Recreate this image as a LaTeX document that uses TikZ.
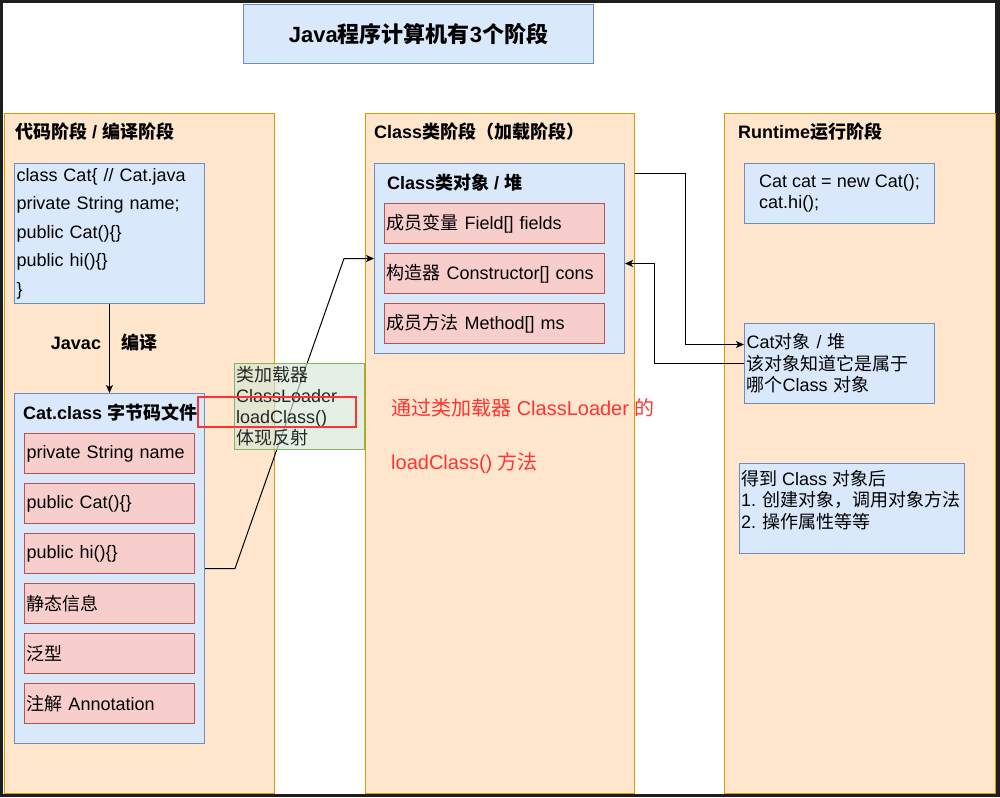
\documentclass[tikz,border=0pt]{standalone}
\usepackage{fontspec}
\setmainfont{Liberation Sans}
\newfontfamily\cjk{Noto Sans CJK SC}
\usetikzlibrary{positioning,arrows.meta}

\newcommand{\zh}[1]{{\cjk #1}}

\definecolor{framedark}{HTML}{1E1E1E}
\definecolor{stagefill}{HTML}{FFE6CC}
\definecolor{stageline}{HTML}{D79B00}
\definecolor{bluefill}{HTML}{DAE8FC}
\definecolor{blueline}{HTML}{6C8EBF}
\definecolor{redfill}{HTML}{F8CECC}
\definecolor{redline}{HTML}{B85450}
\definecolor{greenfill}{HTML}{D5E8D4}
\definecolor{greenline}{HTML}{82B366}
\definecolor{marker}{HTML}{FF3333}

\tikzset{
  every node/.style={font=\fontsize{18}{21.5}\selectfont},
  stage/.style={draw=stageline, fill=stagefill, line width=1.2pt, anchor=north west, inner sep=0pt},
  bluebox/.style={draw=blueline, fill=bluefill, line width=1pt, anchor=north west, inner sep=2pt},
  field/.style={draw=redline, fill=redfill, line width=1pt, anchor=north west, minimum height=40pt, text width=#1, inner xsep=2pt, align=left},
  heading/.style={anchor=west, inner sep=0pt, font=\fontsize{18}{21.5}\selectfont\bfseries},
  conn/.style={draw=black, line width=1pt, -{Stealth[length=8pt,width=7pt,inset=2pt]}},
}

\begin{document}
\begin{tikzpicture}[x=1pt,y=-1pt]
\fill[framedark] (0,0) rectangle (1000,797);
\fill[white] (3,3) rectangle (995,794);

% title
\node[bluebox, minimum width=350pt, minimum height=59pt, font=\fontsize{22}{26}\selectfont\bfseries] (title) at (243,4) {Java\zh{程序计算机有}3\zh{个阶段}};

% three stages
\node[stage, minimum width=270pt, minimum height=680pt] (codestage) at (4,113) {};
\node[stage, minimum width=269pt, minimum height=680pt] (classstage) at (365,113) {};
\node[stage, minimum width=271pt, minimum height=680pt] (runstage) at (724,113) {};

\node[heading] (codehead) at (15,132) {\zh{代码阶段} / \zh{编译阶段}};
\node[heading] (classhead) at (374,132) {Class\zh{类阶段（加载阶段）}};
\node[heading] (runhead) at (738,132) {Runtime\zh{运行阶段}};

% code stage
\node[bluebox, minimum height=140pt, text width=186pt, align=left, font=\fontsize{18}{28.5}\selectfont] (src) at (14,163)
  {class Cat\{ // Cat.java\\private String name;\\public Cat()\{\}\\public hi()\{\}\\\}};

\node[bluebox, minimum width=190pt, minimum height=350pt] (bytecode) at (14,393) {};
\node[heading] (bytehead) at (23,413) {Cat.class \zh{字节码文件}};
\node[field=166pt] (bname) at (24,433) {private String name};
\node[field=166pt] (bcat) at (24,483) {public Cat()\{\}};
\node[field=166pt] (bhi) at (24,533) {public hi()\{\}};
\node[field=166pt] (bstatic) at (24,583) {\zh{静态信息}};
\node[field=166pt] (bgeneric) at (24,633) {\zh{泛型}};
\node[field=166pt] (bannot) at (24,683) {\zh{注解} Annotation};

\draw[conn] (src.south) -- (bytecode.north);
\node[font=\fontsize{18}{21.5}\selectfont\bfseries] (javac) at (76,343) {Javac};
\node[font=\fontsize{18}{21.5}\selectfont\bfseries] (compile) at (139,343) {\zh{编译}};

% class stage
\node[bluebox, minimum width=250pt, minimum height=190pt] (clsobj) at (374,163) {};
\node[heading] (clshead) at (387,183) {Class\zh{类对象} / \zh{堆}};
\node[field=216pt] (ofield) at (384,203) {\zh{成员变量} Field[] fields};
\node[field=216pt] (ocons) at (384,253) {\zh{构造器} Constructor[] cons};
\node[field=216pt] (omethod) at (384,303) {\zh{成员方法} Method[] ms};

\node[anchor=west, inner sep=0pt, text=marker, font=\fontsize{20}{24}\selectfont] (note1) at (391,408) {\zh{通过类加载器} ClassLoader \zh{的}};
\node[anchor=west, inner sep=0pt, text=marker, font=\fontsize{20}{24}\selectfont] (note2) at (391,463) {loadClass() \zh{方法}};

% runtime stage
\node[bluebox, minimum width=190pt, minimum height=60pt, align=left] (runcode) at (744,163) {Cat cat = new Cat();\\cat.hi();};
\node[bluebox, minimum height=80pt, text width=186pt, align=left, inner xsep=2pt] (catobj) at (744,323)
  {Cat\zh{对象} / \zh{堆}\\\zh{该对象知道它是属于}\\\zh{哪个}Class \zh{对象}};
\node[bluebox, minimum width=225pt, minimum height=90pt] (usage) at (739,463) {};
\node[anchor=north west, align=left, inner sep=0pt] (usagetext) at (741,470)
  {\zh{得到} Class \zh{对象后}\\1. \zh{创建对象，调用对象方法}\\2. \zh{操作属性等等}};

% connectors
\draw[conn] (bytecode.east) -- ++(30,0) -- ([xshift=-30pt]clsobj.west) -- (clsobj.west);
\draw[conn] (classstage.north east) ++(0,60) -- ++(50,0) |- ([yshift=19pt]catobj.west);
\draw[conn] (catobj.west) -- ++(-90,0) |- ([yshift=-5pt]clsobj.east);

% class loader note
\node[draw=greenline, fill=greenfill, fill opacity=0.65, text opacity=1, text=black!85, anchor=north west,
  minimum width=130pt, minimum height=80pt, text width=126pt, inner xsep=2pt, align=left, font=\fontsize{18}{21}\selectfont] (loader) at (234,363)
  {\zh{类加载器}\\ClassLoader\\loadClass()\\\zh{体现反射}};
\node[draw=marker, line width=2pt, anchor=north west, minimum width=158pt, minimum height=30pt] (loadmark) at (197,396) {};
\end{tikzpicture}
\end{document}
